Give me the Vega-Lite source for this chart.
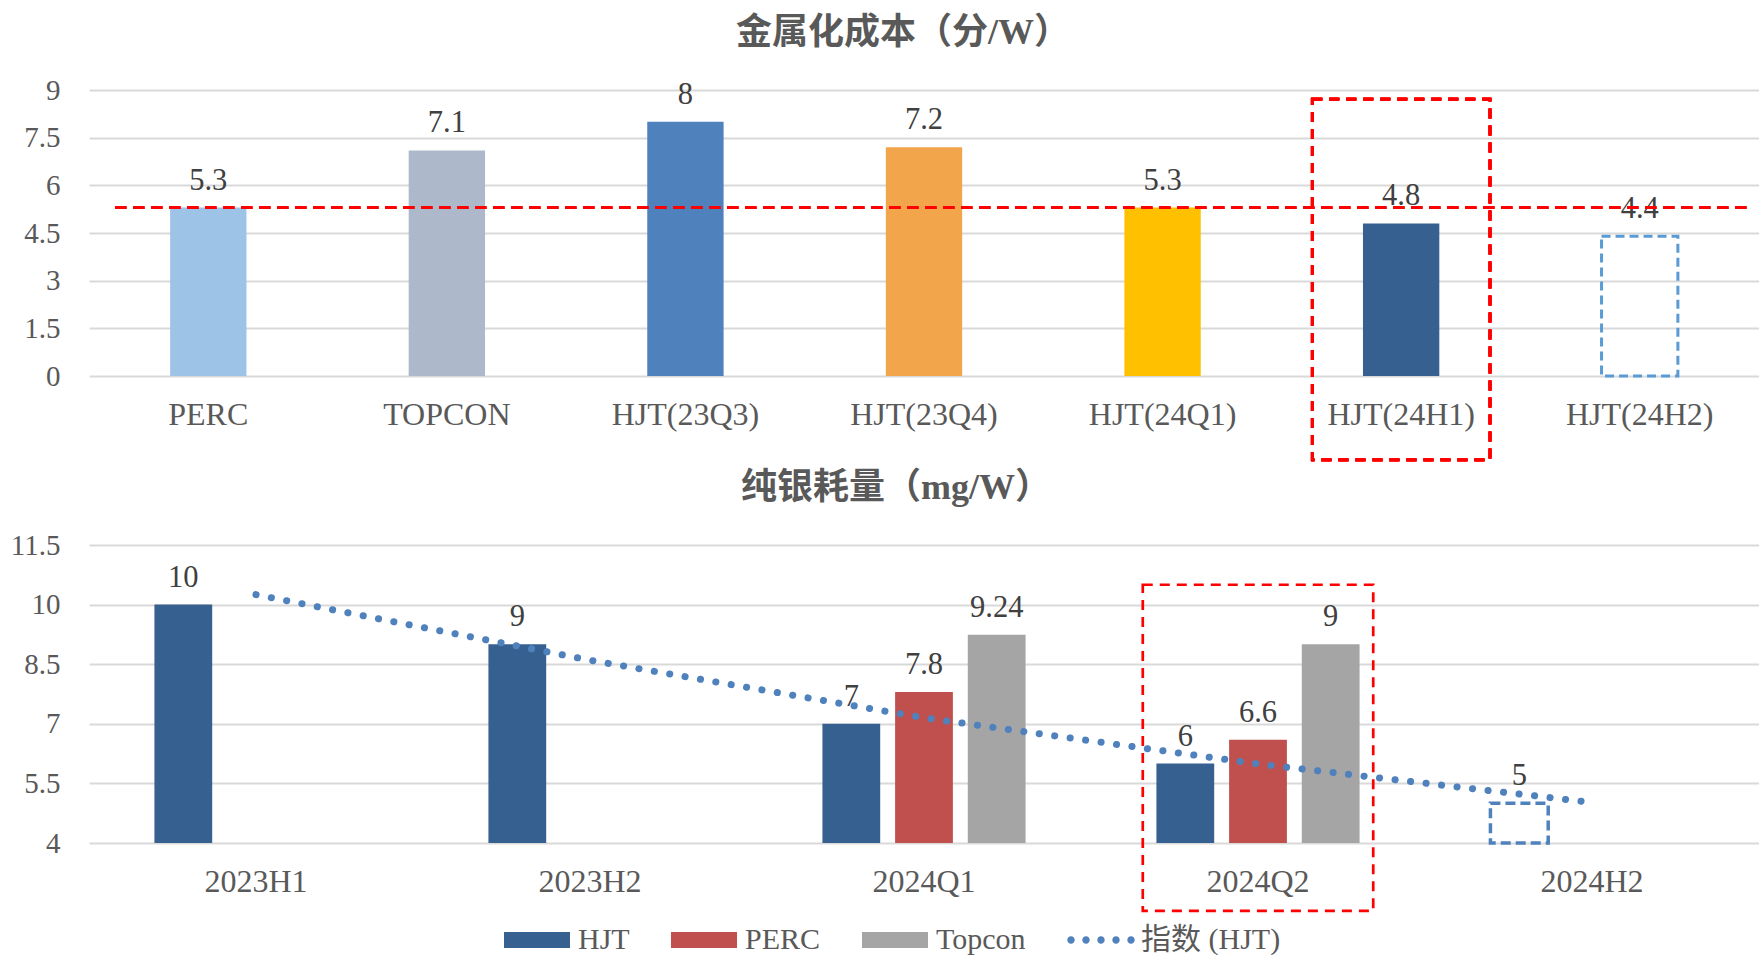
{
  "$schema": "https://vega.github.io/schema/vega-lite/v6.json",
  "padding": {"left": 10, "top": 15, "right": 0, "bottom": 0},
  "background": "white",
  "spacing": 8,
  "config": {
    "view": {"stroke": null},
    "axis": {"labelFont": "Liberation Serif", "labelColor": "#595959", "ticks": false, "domain": false, "title": null, "gridColor": "#D9D9D9", "gridWidth": 2},
    "title": {"font": "Liberation Serif, Noto Sans CJK SC", "fontWeight": "bold", "fontSize": 36, "color": "#595959", "anchor": "middle"}
  },
  "datasets": {
    "cost": [
      {"category": "PERC", "value": 5.3, "status": "实际"},
      {"category": "TOPCON", "value": 7.1, "status": "实际"},
      {"category": "HJT(23Q3)", "value": 8, "status": "实际"},
      {"category": "HJT(23Q4)", "value": 7.2, "status": "实际"},
      {"category": "HJT(24Q1)", "value": 5.3, "status": "实际"},
      {"category": "HJT(24H1)", "value": 4.8, "status": "实际"},
      {"category": "HJT(24H2)", "value": 4.4, "status": "预测"}
    ],
    "silver": [
      {"period": "2023H1", "series": "HJT", "value": 10, "status": "实际"},
      {"period": "2023H2", "series": "HJT", "value": 9, "status": "实际"},
      {"period": "2024Q1", "series": "HJT", "value": 7, "status": "实际"},
      {"period": "2024Q1", "series": "PERC", "value": 7.8, "status": "实际"},
      {"period": "2024Q1", "series": "Topcon", "value": 9.24, "status": "实际"},
      {"period": "2024Q2", "series": "HJT", "value": 6, "status": "实际"},
      {"period": "2024Q2", "series": "PERC", "value": 6.6, "status": "实际"},
      {"period": "2024Q2", "series": "Topcon", "value": 9, "status": "实际"},
      {"period": "2024H2", "series": "HJT", "value": 5, "status": "预测"}
    ],
    "trend": [
      {"period": "2023H1", "trend": 10.25},
      {"period": "2023H2", "trend": 8.6},
      {"period": "2024Q1", "trend": 7.15},
      {"period": "2024Q2", "trend": 5.99},
      {"period": "2024H2", "trend": 5.02}
    ]
  },
  "resolve": {"scale": {"fill": "independent", "x": "independent", "y": "independent"}, "legend": {"fill": "independent"}},
  "vconcat": [
    {
      "width": 1670,
      "height": 286,
      "title": {"text": "金属化成本（分/W）", "dx": -21, "offset": 24},
      "data": {"name": "cost"},
      "encoding": {
        "x": {"field": "category", "type": "nominal", "sort": null,
              "scale": {"domain": ["PERC", "TOPCON", "HJT(23Q3)", "HJT(23Q4)", "HJT(24Q1)", "HJT(24H1)", "HJT(24H2)"], "paddingInner": 0, "paddingOuter": 0},
              "axis": {"labelAngle": 0, "labelFontSize": 32, "labelPadding": 23, "grid": false}},
        "y": {"field": "value", "type": "quantitative",
              "scale": {"domain": [0, 9], "nice": false},
              "axis": {"values": [0, 1.5, 3, 4.5, 6, 7.5, 9], "format": ".1~f", "labelFontSize": 29, "labelPadding": 29, "grid": true}}
      },
      "layer": [
        {
          "transform": [{"filter": "datum.status === '实际'"}],
          "mark": {"type": "bar", "width": {"band": 0.32}},
          "encoding": {
            "fill": {"field": "category", "type": "nominal", "legend": null,
                     "scale": {"domain": ["PERC", "TOPCON", "HJT(23Q3)", "HJT(23Q4)", "HJT(24Q1)", "HJT(24H1)"],
                               "range": ["#9DC3E6", "#ADB9CA", "#4F81BD", "#F2A54A", "#FFC000", "#36608F"]}}
          }
        },
        {
          "transform": [{"filter": "datum.status === '预测'"}],
          "mark": {"type": "bar", "width": {"band": 0.32}, "fill": "transparent", "stroke": "#5B9BD5", "strokeWidth": 3, "strokeDash": [9, 5]}
        },
        {
          "mark": {"type": "text", "baseline": "alphabetic", "dy": -18, "font": "Liberation Serif", "fontSize": 30.5, "color": "#404040"},
          "encoding": {"text": {"field": "value", "type": "quantitative", "format": "~g"}}
        },
        {
          "mark": {"type": "rule", "stroke": "#FF0000", "strokeWidth": 2.7, "strokeDash": [11, 7]},
          "encoding": {"y": {"datum": 5.3}, "x": {"datum": "PERC", "bandPosition": 0.11}, "x2": {"datum": "HJT(24H2)", "bandPosition": 0.95}}
        },
        {
          "mark": {"type": "bar", "width": {"band": 0.745}, "fill": "transparent", "stroke": "#FF0000", "strokeWidth": 2.7, "strokeDash": [10, 7]},
          "encoding": {"x": {"datum": "HJT(24H1)"}, "y": {"datum": 8.71}, "y2": {"datum": -2.64}}
        }
      ]
    },
    {
      "width": 1670,
      "height": 298,
      "title": {"text": "纯银耗量（mg/W）", "dx": -28, "offset": 24},
      "layer": [
        {
          "data": {"name": "silver"},
          "transform": [{"filter": "datum.status === '实际'"}],
          "mark": {"type": "bar"},
          "encoding": {
            "x": {"field": "period", "type": "nominal", "sort": null,
                  "scale": {"domain": ["2023H1", "2023H2", "2024Q1", "2024Q2", "2024H2"], "paddingInner": 0, "paddingOuter": 0},
                  "axis": {"labelAngle": 0, "labelFontSize": 32, "labelPadding": 23, "grid": false}},
            "xOffset": {"field": "series", "type": "nominal", "scale": {"domain": ["HJT", "PERC", "Topcon"], "paddingInner": 0.205, "paddingOuter": 0.9}},
            "y": {"field": "value", "type": "quantitative",
                  "scale": {"domain": [4, 11.5], "nice": false, "zero": false},
                  "axis": {"values": [4, 5.5, 7, 8.5, 10, 11.5], "format": ".1~f", "labelFontSize": 29, "labelPadding": 29, "grid": true}},
            "y2": {"datum": 4},
            "fill": {"field": "series", "type": "nominal",
                     "scale": {"domain": ["HJT", "PERC", "Topcon", "指数 (HJT)"], "range": ["#36608F", "#C0504D", "#A5A5A5", "#4F81BD"]},
                     "legend": {"orient": "none", "legendX": 410, "legendY": 380, "direction": "horizontal", "title": null,
                                "symbolType": "M-1,-0.8H5.6V0.8H-1Z", "symbolSize": 400, "symbolStrokeWidth": 0,
                                "labelFont": "Liberation Serif, Noto Sans CJK SC", "labelFontSize": 30, "labelColor": "#595959",
                                "labelOffset": 49, "columnPadding": 36,
                                "encode": {"symbols": {"update": {"shape": {"signal": "datum.value === '指数 (HJT)' ? 'M-0.97,0A0.37,0.37,0,1,0,-0.23,0A0.37,0.37,0,1,0,-0.97,0ZM0.53,0A0.37,0.37,0,1,0,1.27,0A0.37,0.37,0,1,0,0.53,0ZM2.03,0A0.37,0.37,0,1,0,2.77,0A0.37,0.37,0,1,0,2.03,0ZM3.53,0A0.37,0.37,0,1,0,4.27,0A0.37,0.37,0,1,0,3.53,0ZM5.03,0A0.37,0.37,0,1,0,5.77,0A0.37,0.37,0,1,0,5.03,0Z' : 'M-1,-0.8H5.6V0.8H-1Z'"}}}}}}
          }
        },
        {
          "data": {"name": "silver"},
          "transform": [{"filter": "datum.status === '预测'"}],
          "mark": {"type": "bar", "fill": "transparent", "stroke": "#4F81BD", "strokeWidth": 3.5, "strokeDash": [10, 5]},
          "encoding": {
            "x": {"field": "period", "type": "nominal", "sort": null},
            "xOffset": {"field": "series", "type": "nominal"},
            "y": {"field": "value", "type": "quantitative"},
            "y2": {"datum": 4}
          }
        },
        {
          "data": {"name": "silver"},
          "mark": {"type": "text", "baseline": "alphabetic", "dy": -18, "font": "Liberation Serif", "fontSize": 30.5, "color": "#404040"},
          "encoding": {
            "x": {"field": "period", "type": "nominal", "sort": null},
            "xOffset": {"field": "series", "type": "nominal"},
            "y": {"field": "value", "type": "quantitative"},
            "text": {"field": "value", "type": "quantitative", "format": "~g"}
          }
        },
        {
          "data": {"name": "trend"},
          "mark": {"type": "line", "stroke": "#4F81BD", "strokeWidth": 7, "strokeDash": [0.1, 15.5], "strokeCap": "round"},
          "encoding": {
            "x": {"field": "period", "type": "nominal", "sort": null},
            "y": {"field": "trend", "type": "quantitative"}
          }
        },
        {
          "data": {"values": [{}]},
          "mark": {"type": "bar", "width": {"band": 0.69}, "fill": "transparent", "stroke": "#FF0000", "strokeWidth": 2.7, "strokeDash": [10, 7]},
          "encoding": {"x": {"datum": "2024Q2"}, "y": {"datum": 10.5}, "y2": {"datum": 2.29}}
        }
      ]
    }
  ]
}
